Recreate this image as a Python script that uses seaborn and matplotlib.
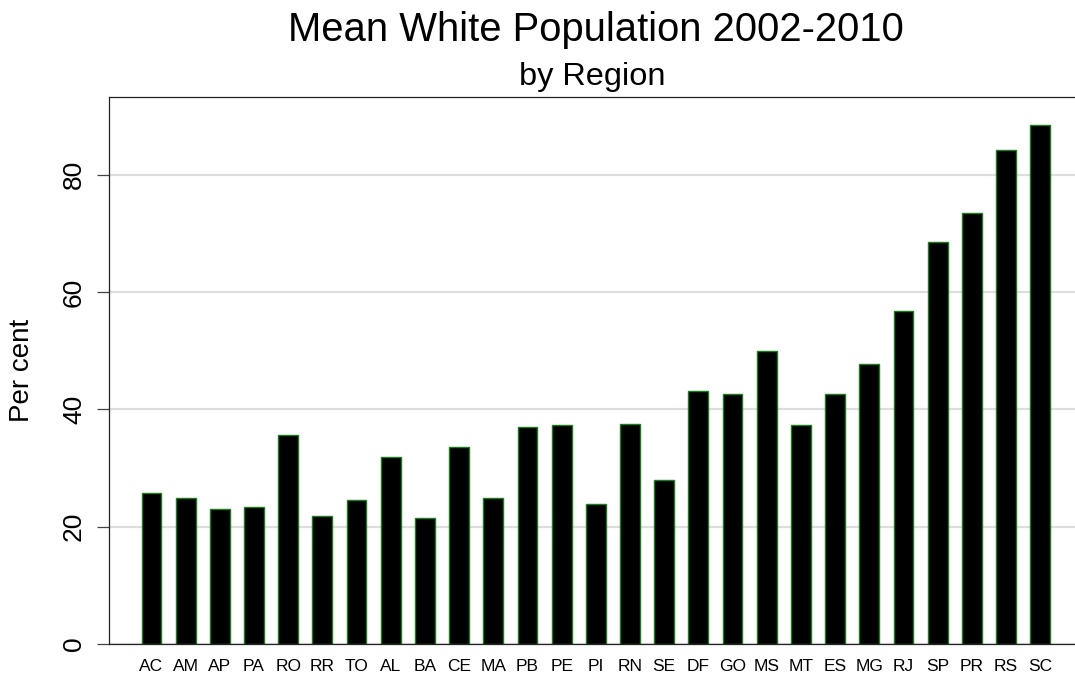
import matplotlib
matplotlib.use("Agg")
import matplotlib.pyplot as plt
import seaborn as sns

states = ["AC", "AM", "AP", "PA", "RO", "RR", "TO", "AL", "BA", "CE", "MA",
          "PB", "PE", "PI", "RN", "SE", "DF", "GO", "MS", "MT", "ES", "MG",
          "RJ", "SP", "PR", "RS", "SC"]
white_pct = [25.7, 24.9, 23.0, 23.3, 35.6, 21.8, 24.5, 31.9, 21.4, 33.6, 24.9,
             37.0, 37.3, 23.9, 37.5, 28.0, 43.2, 42.7, 49.9, 37.4, 42.6, 47.7,
             56.7, 68.6, 73.5, 84.2, 88.5]
y_ticks = [0, 20, 40, 60, 80]

sns.set_style("white")
plt.rcParams["font.family"] = ["Liberation Sans", "DejaVu Sans"]
plt.rcParams["text.color"] = "black"
plt.rcParams["axes.labelcolor"] = "black"
plt.rcParams["xtick.color"] = "black"
plt.rcParams["ytick.color"] = "black"

fig = plt.figure(figsize=(10.75, 6.75), dpi=100)
# plot box runs slightly past the right edge, like the cropped original
ax = fig.add_axes([0.1011, 0.0459, 0.9063, 0.8100])

sns.barplot(x=states, y=white_pct, color="black", saturation=1,
            edgecolor="#1f7a1f", linewidth=1.0, width=0.58, ax=ax)

ax.set_xlim(-1.25, 27.25)
ax.set_ylim(0, 93.2)
ax.set_yticks(y_ticks)
ax.set_axisbelow(True)
ax.yaxis.grid(True, color="#dddddd", linewidth=1.6)
ax.xaxis.grid(False)

for side in ["left", "top", "bottom", "right"]:
    ax.spines[side].set_visible(True)
    ax.spines[side].set_color("#222222")
    ax.spines[side].set_linewidth(0.9)

ax.tick_params(axis="y", labelsize=19, length=8.3, width=0.9, color="#444444",
               labelcolor="black", pad=8, labelrotation=90, left=True,
               direction="out")
ax.tick_params(axis="x", labelsize=12.5, length=0, pad=11, labelcolor="black")
for lab in ax.get_yticklabels():
    lab.set_va("center")

ax.set_xlabel("")
ax.set_ylabel("Per cent", fontsize=20, color="black", va="center")
ax.yaxis.set_label_coords(-0.089, 0.5)

fig.text(0.5544, 0.9393, "Mean White Population 2002-2010", fontsize=28.8,
         ha="center", va="baseline", color="black")
fig.text(0.5510, 0.874, "by Region", fontsize=23.4, ha="center",
         va="baseline", color="black")

fig.savefig("out.png", dpi=100)
